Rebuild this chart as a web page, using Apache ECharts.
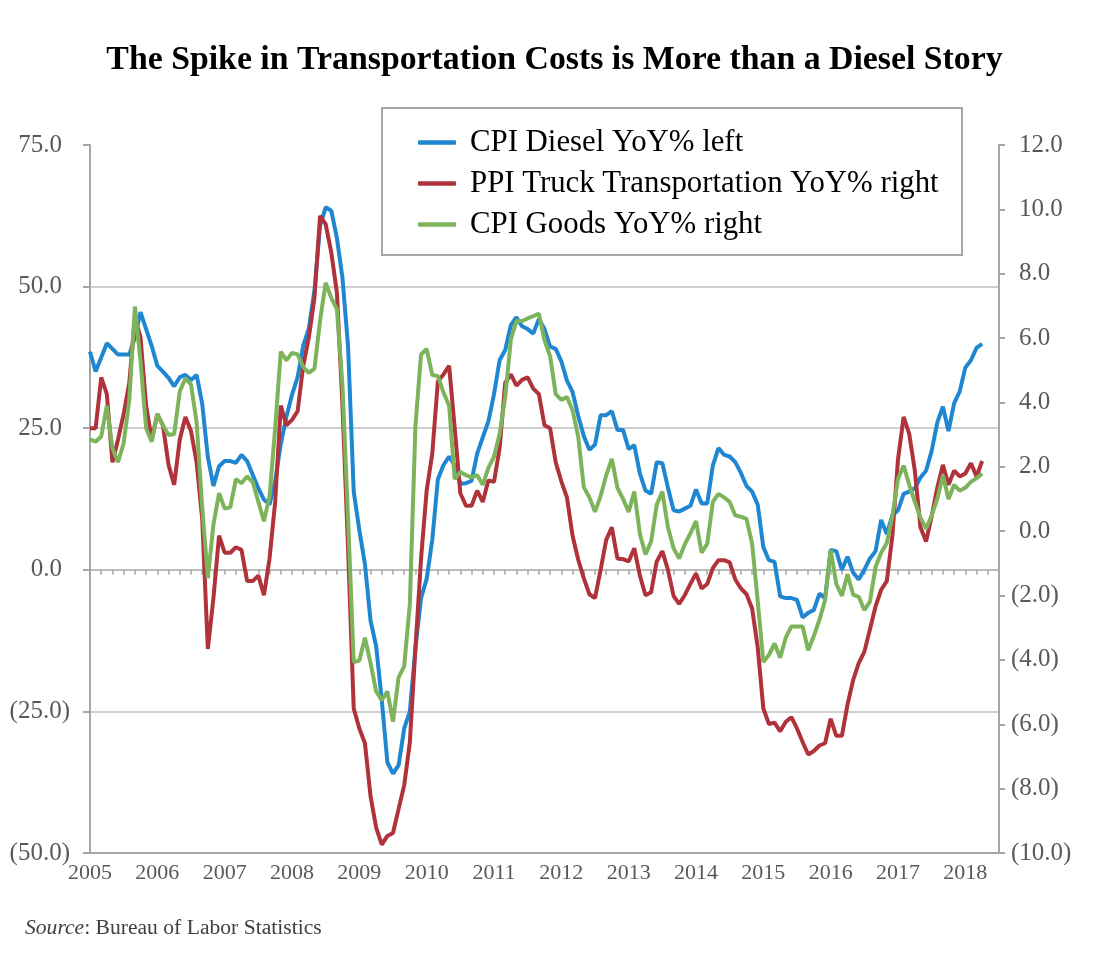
<!DOCTYPE html>
<html>
<head>
<meta charset="utf-8">
<script src="https://cdn.jsdelivr.net/npm/echarts@6/dist/echarts.min.js"></script>
<style>
html,body{margin:0;padding:0;background:#fff;}
#chart{width:1109px;height:960px;}
</style>
</head>
<body>
<div id="chart"></div>
<script>
// Month categories Jan 2005 .. Jul 2018 (axis runs a little past the last data point)
var startYear = 2005, endYear = 2018, endMonth = 7;
var months = [];
for (var y = startYear; y <= endYear; y++) {
  for (var m = 1; m <= 12; m++) {
    if (y === endYear && m > endMonth) break;
    months.push(y + '-' + (m < 10 ? '0' + m : m));
  }
}

// CPI Diesel YoY% (left axis), Jan 2005 .. Apr 2018
var dieselYoY = [
  38.5, 35, 37.5, 40, 39, 38, 38, 38, 41, 45.5, 42.5, 39.5,
  36, 35, 33.9, 32.4, 34, 34.4, 33.5, 34.4, 29.3, 19.9, 14.8, 18.3,
  19.2, 19.2, 18.9, 20.3, 19.2, 16.8, 14.4, 12.4, 11.5, 15.7, 22.2, 27,
  30.9, 34, 39.6, 42.6, 49.3, 60.7, 64, 63.4, 58.6, 51.5, 39.3, 13.8,
  7, 1, -9, -13.5, -23, -34, -36, -34.5, -28, -25, -13.8, -5,
  -1.6, 5.3, 16, 18.5, 20, 18.4, 15.2, 15.3, 15.7, 20.5, 23.4, 26.2,
  31, 37, 38.8, 43.2, 44.6, 43, 42.5, 41.7, 44.3, 42.5, 39.4, 39,
  36.8, 33.4, 31.4, 27.2, 23.6, 21.2, 22.1, 27.3, 27.3, 28, 24.7, 24.7,
  21.3, 22, 17, 14, 13.4, 19, 18.8, 14.5, 10.5, 10.3, 10.8, 11.3,
  14.2, 11.7, 11.7, 18.4, 21.5, 20.3, 20, 19, 17.1, 14.8, 13.8, 11.5,
  4, 1.7, 1.4, -4.7, -5, -5, -5.3, -8.4, -7.6, -7.1, -4.2, -5,
  3.5, 3.3, 0, 2.3, -0.5, -1.7, 0, 2, 3.3, 8.8, 6.3, 9.6,
  10.5, 13.4, 13.8, 14.4, 16.3, 17.5, 21, 26, 28.8, 24.5, 29.4, 31.5,
  35.7, 37, 39.2, 39.9
];

// PPI Truck Transportation YoY% (right axis)
var truckYoY = [
  3.20, 3.20, 4.78, 4.26, 2.14, 2.85, 3.64, 4.61, 6.63, 6.02, 3.90, 2.85,
  3.64, 3.29, 2.06, 1.44, 2.85, 3.55, 3.11, 2.14, 0.38, -3.66, -2.08, -0.14,
  -0.67, -0.67, -0.50, -0.58, -1.55, -1.55, -1.38, -1.99, -0.85, 0.91, 3.90, 3.29,
  3.46, 3.73, 5.14, 6.02, 7.25, 9.80, 9.54, 8.66, 7.42, 3.90, -0.58, -5.51,
  -6.13, -6.59, -8.24, -9.21, -9.74, -9.47, -9.38, -8.63, -7.89, -6.57, -3.63, -0.85,
  1.26, 2.41, 4.66, 4.87, 5.14, 3.20, 1.18, 0.79, 0.79, 1.26, 0.91, 1.58,
  1.53, 2.58, 4.61, 4.87, 4.52, 4.70, 4.78, 4.43, 4.26, 3.29, 3.20, 2.14,
  1.55, 1.05, -0.14, -0.88, -1.46, -1.96, -2.08, -1.20, -0.27, 0.12, -0.85, -0.87,
  -0.94, -0.53, -1.38, -1.99, -1.90, -0.94, -0.62, -1.20, -2.01, -2.26, -1.99, -1.64,
  -1.31, -1.78, -1.64, -1.15, -0.90, -0.90, -0.97, -1.50, -1.78, -1.96, -2.40, -3.61,
  -5.51, -5.99, -5.95, -6.22, -5.92, -5.78, -6.13, -6.55, -6.94, -6.83, -6.66, -6.59,
  -5.83, -6.36, -6.36, -5.39, -4.63, -4.10, -3.75, -3.05, -2.34, -1.82, -1.55, -0.14,
  2.23, 3.55, 3.02, 1.88, 0.12, -0.32, 0.47, 1.35, 2.06, 1.44, 1.88, 1.70,
  1.79, 2.11, 1.70, 2.18
];

// CPI Goods YoY% (right axis)
var goodsYoY = [
  2.85, 2.78, 2.94, 3.90, 2.58, 2.14, 2.74, 4.08, 6.98, 5.28, 3.20, 2.78,
  3.64, 3.29, 2.99, 3.02, 4.34, 4.75, 4.56, 3.38, 0.74, -1.46, 0.21, 1.18,
  0.70, 0.74, 1.62, 1.49, 1.70, 1.53, 0.91, 0.31, 1.09, 3.20, 5.58, 5.31,
  5.54, 5.49, 5.10, 4.92, 5.05, 6.54, 7.72, 7.25, 6.90, 4.52, 0.35, -4.07,
  -4.02, -3.31, -4.10, -4.98, -5.25, -4.98, -5.92, -4.54, -4.19, -2.26, 3.29, 5.49,
  5.66, 4.85, 4.82, 4.31, 3.90, 1.62, 1.84, 1.74, 1.67, 1.74, 1.44, 1.97,
  2.32, 3.02, 4.17, 5.95, 6.53, 6.53, 6.61, 6.68, 6.76, 5.93, 5.44, 4.26,
  4.08, 4.17, 3.76, 2.95, 1.37, 1.05, 0.60, 1.09, 1.74, 2.25, 1.35, 1.00,
  0.60, 1.23, -0.09, -0.72, -0.32, 0.82, 1.23, 0.12, -0.53, -0.85, -0.41, -0.07,
  0.31, -0.67, -0.39, 0.91, 1.16, 1.05, 0.91, 0.49, 0.45, 0.38, -0.39, -2.17,
  -4.07, -3.84, -3.49, -3.93, -3.31, -2.96, -2.96, -2.96, -3.70, -3.26, -2.75, -2.15,
  -0.58, -1.64, -2.01, -1.34, -1.97, -2.04, -2.45, -2.19, -1.11, -0.67, -0.37, 0.47,
  1.62, 2.04, 1.44, 0.91, 0.42, 0.08, 0.49, 1.00, 1.74, 1.00, 1.44, 1.26,
  1.35, 1.53, 1.65, 1.79
];

var seriesNames = ['CPI Diesel YoY% left', 'PPI Truck Transportation YoY% right', 'CPI Goods YoY% right'];
var seriesColors = ['#1f87d1', '#b0323a', '#7db45b'];

var FONT = 'Liberation Serif';
var AXIS_GRAY = '#a6a6a6';
var GRID_GRAY = '#bfbfbf';
var LABEL_COLOR = '#595959';

function paren(v) {
  return v < 0 ? '(' + Math.abs(v).toFixed(1) + ')' : v.toFixed(1);
}

var chart = echarts.init(document.getElementById('chart'), null, {renderer: 'canvas'});
var option = {
  backgroundColor: '#ffffff',
  animation: false,
  title: {
    text: 'The Spike in Transportation Costs is More than a Diesel Story',
    left: 'center',
    top: 38,
    textStyle: {fontFamily: FONT, fontWeight: 'bold', fontSize: 33.8, color: '#000'}
  },
  legend: {
    orient: 'vertical',
    left: 418,
    top: 127,
    itemGap: 10,
    itemWidth: 38,
    itemHeight: 4.5,
    icon: 'roundRect',
    selectedMode: false,
    padding: 0,
    textStyle: {fontFamily: FONT, fontSize: 30.8, color: '#000', lineHeight: 30, padding: [0, 0, 0, 9]},
    data: seriesNames
  },
  graphic: [
    {
      type: 'rect',
      shape: {x: 382, y: 108, width: 580, height: 147},
      style: {fill: 'rgba(0,0,0,0)', stroke: AXIS_GRAY, lineWidth: 2},
      z: 1
    },
    {
      type: 'text',
      left: 25,
      top: 917,
      style: {
        text: '{i|Source}: Bureau of Labor Statistics',
        fontFamily: FONT,
        fontSize: 21.6,
        fill: '#404040',
        rich: {i: {fontFamily: FONT, fontSize: 21.6, fontStyle: 'italic', fill: '#404040'}}
      }
    }
  ],
  grid: {left: 90, right: 110, top: 145, bottom: 107, containLabel: false},
  xAxis: [
    {
      type: 'category',
      data: months,
      boundaryGap: false,
      position: 'bottom',
      axisLine: {onZero: false, lineStyle: {color: AXIS_GRAY, width: 2}},
      axisTick: {show: false},
      splitLine: {show: false},
      axisLabel: {
        interval: 0,
        margin: 9,
        fontFamily: FONT,
        fontSize: 22,
        color: LABEL_COLOR,
        formatter: function (v) { return v.slice(5) === '01' ? v.slice(0, 4) : ''; }
      }
    },
    {
      type: 'category',
      data: months,
      boundaryGap: false,
      position: 'bottom',
      axisLine: {show: true, onZero: true, onZeroAxisIndex: 0, lineStyle: {color: AXIS_GRAY, width: 1.5}},
      axisTick: {show: true, length: 5, interval: function (i) { return i % 2 === 0; }, lineStyle: {color: AXIS_GRAY, width: 1.5}},
      axisLabel: {show: false},
      splitLine: {show: false}
    }
  ],
  yAxis: [
    {
      type: 'value',
      position: 'left',
      min: -50,
      max: 75,
      interval: 25,
      axisLine: {show: true, lineStyle: {color: AXIS_GRAY, width: 2}},
      axisTick: {show: true, length: 7, lineStyle: {color: AXIS_GRAY, width: 2}},
      splitLine: {show: true, lineStyle: {color: ['rgba(0,0,0,0)', GRID_GRAY, 'rgba(0,0,0,0)', GRID_GRAY, GRID_GRAY, 'rgba(0,0,0,0)'], width: 1.5}},
      axisLabel: {
        margin: 20,
        fontFamily: FONT,
        fontSize: 25,
        color: LABEL_COLOR,
        formatter: function (v) { return v < 0 ? paren(v) : '{p|' + paren(v) + '}'; },
        rich: {p: {fontFamily: FONT, fontSize: 25, color: LABEL_COLOR, padding: [0, 8, 0, 0]}}
      }
    },
    {
      type: 'value',
      position: 'right',
      min: -10,
      max: 12,
      interval: 2,
      axisLine: {show: true, lineStyle: {color: AXIS_GRAY, width: 2}},
      axisTick: {show: true, length: 6, lineStyle: {color: AXIS_GRAY, width: 2}},
      splitLine: {show: false},
      axisLabel: {
        margin: 12,
        fontFamily: FONT,
        fontSize: 25,
        color: LABEL_COLOR,
        formatter: function (v) { return v < 0 ? paren(v) : '{p|' + paren(v) + '}'; },
        rich: {p: {fontFamily: FONT, fontSize: 25, color: LABEL_COLOR, padding: [0, 0, 0, 8]}}
      }
    }
  ],
  series: [
    {
      name: seriesNames[0], type: 'line', xAxisIndex: 0, yAxisIndex: 0,
      data: dieselYoY, symbol: 'none', showSymbol: false, color: seriesColors[0],
      lineStyle: {width: 4, color: seriesColors[0]}, itemStyle: {color: seriesColors[0]}, z: 2
    },
    {
      name: seriesNames[1], type: 'line', xAxisIndex: 0, yAxisIndex: 1,
      data: truckYoY, symbol: 'none', showSymbol: false, color: seriesColors[1],
      lineStyle: {width: 4, color: seriesColors[1]}, itemStyle: {color: seriesColors[1]}, z: 3
    },
    {
      name: seriesNames[2], type: 'line', xAxisIndex: 0, yAxisIndex: 1,
      data: goodsYoY, symbol: 'none', showSymbol: false, color: seriesColors[2],
      lineStyle: {width: 4, color: seriesColors[2]}, itemStyle: {color: seriesColors[2]}, z: 4
    }
  ]
};
chart.setOption(option);
</script>
</body>
</html>
